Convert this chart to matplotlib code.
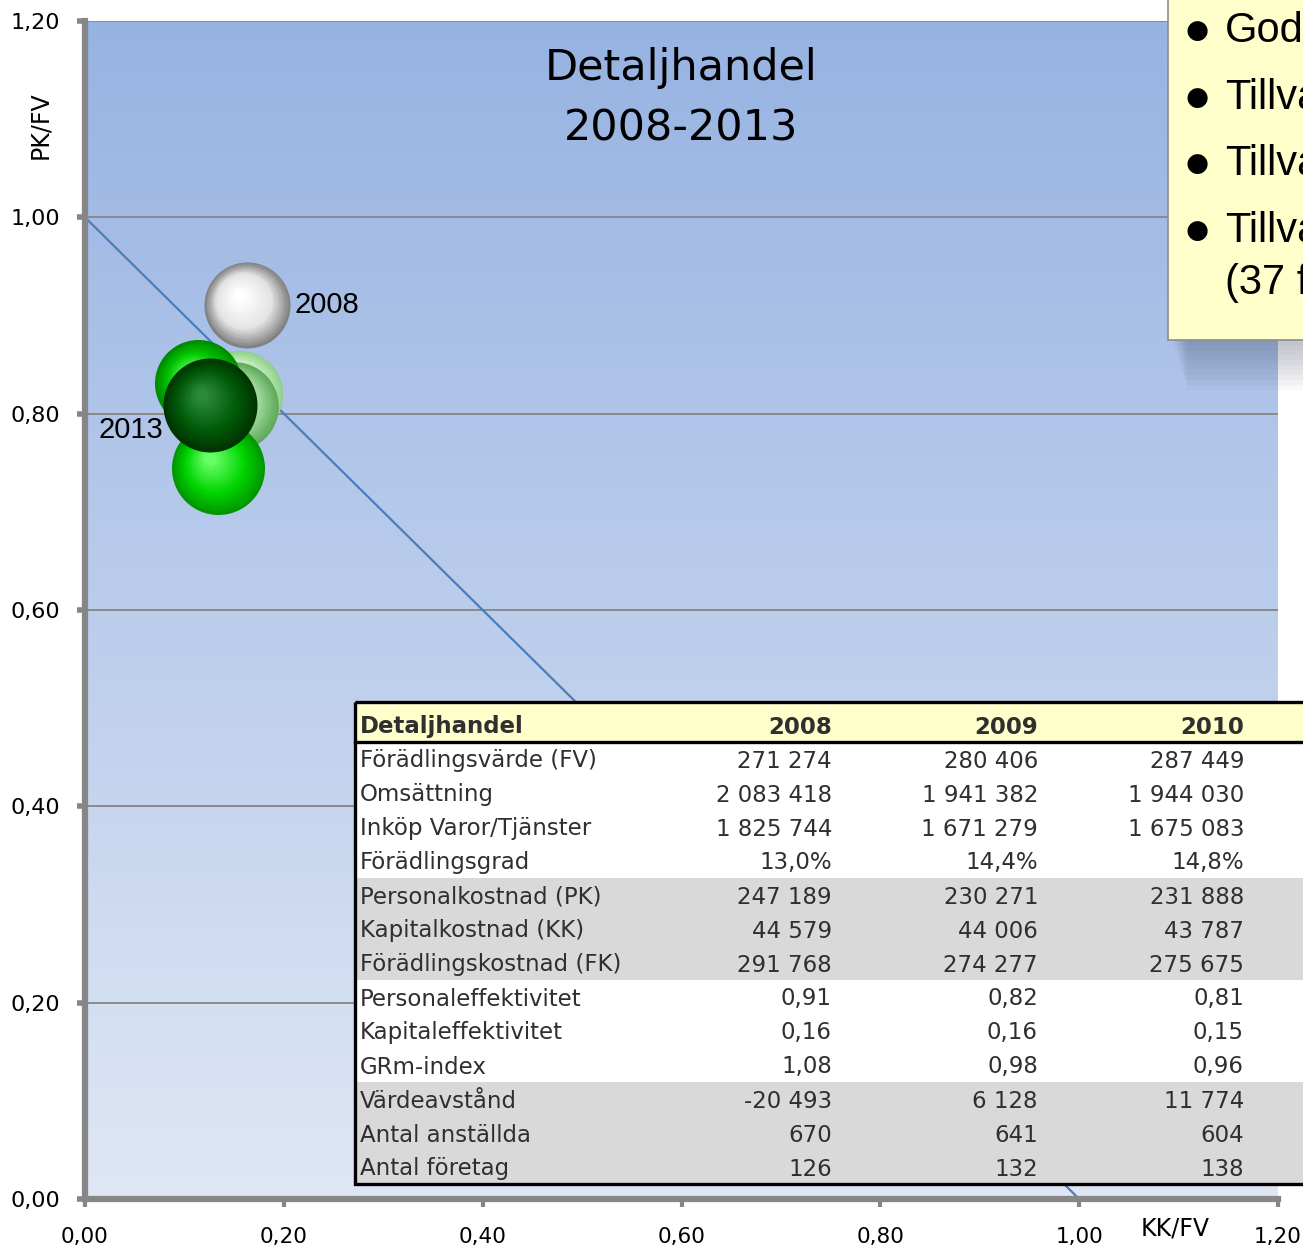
import matplotlib
matplotlib.use("Agg")
import matplotlib.pyplot as plt
import numpy as np
from matplotlib.colors import to_rgb
from matplotlib.patches import Rectangle
from matplotlib.ticker import FuncFormatter
from matplotlib.transforms import ScaledTranslation

# bubble data (KK/FV, PK/FV, storlek ~ FV)
years = ["2008", "2009", "2010", "2011", "2012", "2013"]
kk_fv = [0.163, 0.155, 0.150, 0.114, 0.134, 0.126]
pk_fv = [0.911, 0.820, 0.808, 0.831, 0.745, 0.809]
bubble_fv = [271274, 280406, 287449, 277700, 317300, 324100]

# shading per bubble: rim, mid, highlight
bubble_cols = [
    ("#808080", "#e4e4e4", "#ffffff"),
    ("#8fcf8a", "#cdf3c6", "#ecffe8"),
    ("#5ea85a", "#9ed89a", "#c8f2c4"),
    ("#008a00", "#00c400", "#5cff5c"),
    ("#009600", "#00d400", "#66ff66"),
    ("#003300", "#005a08", "#2a8a3a"),
]

line_x = [0, 1]
line_y = [1, 0]

table_title = "Detaljhandel"
table_years = ["2008", "2009", "2010"]
row_labels = ["Förädlingsvärde (FV)", "Omsättning", "Inköp Varor/Tjänster",
              "Förädlingsgrad", "Personalkostnad (PK)", "Kapitalkostnad (KK)",
              "Förädlingskostnad (FK)", "Personaleffektivitet", "Kapitaleffektivitet",
              "GRm-index", "Värdeavstånd", "Antal anställda", "Antal företag"]
col_2008 = ["271 274", "2 083 418", "1 825 744", "13,0%", "247 189", "44 579",
            "291 768", "0,91", "0,16", "1,08", "-20 493", "670", "126"]
col_2009 = ["280 406", "1 941 382", "1 671 279", "14,4%", "230 271", "44 006",
            "274 277", "0,82", "0,16", "0,98", "6 128", "641", "132"]
col_2010 = ["287 449", "1 944 030", "1 675 083", "14,8%", "231 888", "43 787",
            "275 675", "0,81", "0,15", "0,96", "11 774", "604", "138"]
gray_rows = [4, 5, 6, 10, 11, 12]

notes = ["God", "Tillva", "Tillva", "Tillva\n(37 f"]

W, H = 1303, 1247
fig = plt.figure(figsize=(W / 100, H / 100), dpi=100)
ax = fig.add_axes([85 / W, 48 / H, (1278 - 85) / W, (1199 - 21) / H])
ax.set_xlim(0, 1.2)
ax.set_ylim(0, 1.2)

# background gradient
grad = np.linspace(0, 1, 256)[:, None]
top = np.array(to_rgb("#97b3e2"))
bot = np.array(to_rgb("#dfe7f5"))
img = top[None, None, :] * (1 - grad[:, :, None]) + bot[None, None, :] * grad[:, :, None]
ax.imshow(img, extent=[0, 1.2, 0, 1.2], aspect="auto", zorder=0, origin="upper")

ax.set_axisbelow(True)
ax.set_xticks(np.arange(0, 1.21, 0.2))
ax.set_yticks(np.arange(0, 1.21, 0.2))
ax.yaxis.grid(True, color="#8a8a8a", lw=1.4)
fmt = FuncFormatter(lambda v, p: f"{v:.2f}".replace(".", ","))
ax.xaxis.set_major_formatter(fmt)
ax.yaxis.set_major_formatter(fmt)
for s in ["top", "right"]:
    ax.spines[s].set_visible(False)
for s in ["left", "bottom"]:
    ax.spines[s].set_color("#868686")
    ax.spines[s].set_linewidth(4.5)
ax.tick_params(axis="y", direction="out", length=6, width=4, color="#868686",
               labelsize=16, pad=12)
ax.tick_params(axis="x", direction="out", length=6, width=3, color="#868686",
               labelsize=15.5, pad=14)
ax.text(-0.045, 1.094, "PK/FV", rotation=90, fontsize=17, ha="center", va="center",
        clip_on=False)
ax.text(1.097, -0.03, "KK/FV", fontsize=17, ha="center", va="center", clip_on=False)

ax.text(0.6, 1.1215, "Detaljhandel\n2008-2013", fontsize=31, ha="center", va="center",
        linespacing=1.55, zorder=6)

ax.plot(line_x, line_y, color="#4a7ebb", lw=1.6, zorder=2, clip_on=False)


def sphere(x, y, d, cols, z):
    rim, mid, hi = [np.array(to_rgb(c)) for c in cols]
    n = 32
    for i in range(n):
        t = i / (n - 1)
        r = d / 2 * (1 - 0.88 * t)
        off = (d / 2 - r) * 0.7
        dx, dy = -0.3 * off, 0.35 * off
        if t < 0.4:
            c = rim + (mid - rim) * (t / 0.4)
        else:
            c = mid + (hi - mid) * ((t - 0.4) / 0.6)
        tr = ax.transData + ScaledTranslation(dx / 100, dy / 100, fig.dpi_scale_trans)
        ax.scatter([x], [y], s=(2 * r * 0.72) ** 2, color=np.clip(c, 0, 1),
                   transform=tr, zorder=z, linewidths=0)


for i, yr in enumerate(years):
    d = 86 * np.sqrt(bubble_fv[i] / bubble_fv[0])
    sphere(kk_fv[i], pk_fv[i], d, bubble_cols[i], 3 + i)

ax.annotate(years[0], (kk_fv[0], pk_fv[0]), xytext=(34, 0), textcoords="offset points",
            fontsize=21, family="Liberation Sans", ha="left", va="center", zorder=10)
ax.annotate(years[-1], (kk_fv[-1], pk_fv[-1]), xytext=(-34, -18), textcoords="offset points",
            fontsize=21, family="Liberation Sans", ha="right", va="center", zorder=10)

# overlay in pixel coordinates: table and note box
tax = fig.add_axes([0, 0, 1, 1], zorder=5)
tax.set_xlim(0, W)
tax.set_ylim(H, 0)
tax.axis("off")

tl, tt, hb, rh = 355, 702, 742, 34
tb = hb + rh * len(row_labels)
tax.add_patch(Rectangle((tl, tt), W + 20 - tl, tb - tt, facecolor="white", edgecolor="none"))
tax.add_patch(Rectangle((tl, tt), W + 20 - tl, hb - tt, facecolor="#ffffcc", edgecolor="none"))
for r in gray_rows:
    tax.add_patch(Rectangle((tl, hb + rh * r), W + 20 - tl, rh, facecolor="#d9d9d9",
                            edgecolor="none"))
tax.add_patch(Rectangle((tl, tt), W + 20 - tl, tb - tt, facecolor="none",
                        edgecolor="black", lw=2.4))
tax.plot([tl, W + 20], [hb, hb], color="black", lw=2.4)

col_right = [832, 1038, 1244]
tc = "#2f2f2f"
tax.text(tl + 5, (tt + hb) / 2 + 5, table_title, fontsize=16.5, fontweight="bold", color=tc,
         ha="left", va="center")
for j, yr in enumerate(table_years):
    tax.text(col_right[j], (tt + hb) / 2 + 5, yr, fontsize=16.5, fontweight="bold", color=tc,
             ha="right", va="center")
cols = [col_2008, col_2009, col_2010]
for i, lab in enumerate(row_labels):
    yc = hb + rh * i + rh / 2 + 2
    tax.text(tl + 5, yc, lab, fontsize=16.5, color=tc, ha="left", va="center")
    for j in range(3):
        tax.text(col_right[j], yc, cols[j][i], fontsize=16.5, color=tc, ha="right", va="center")

# note box with shadow
bl, bt, bbot = 1168, -5, 340
for k in range(10, 0, -1):
    tax.add_patch(Rectangle((bl + 4 + k * 1.5, bt), W - bl, bbot - bt + k * 5,
                            facecolor="#404a60", alpha=0.035, edgecolor="none"))
tax.add_patch(Rectangle((bl, bt), W - bl + 20, bbot - bt, facecolor="#ffffcc",
                        edgecolor="#8c8c8c", lw=1.2))
note_y = [30, 97, 163, 230]
for txt, yy in zip(notes, note_y):
    tax.text(1197, yy + 1, "\u25cf", fontsize=19, ha="center", va="center", family="DejaVu Sans")
    tax.text(1225, yy - 19, txt, fontsize=30, ha="left", va="top", family="Liberation Sans",
             linespacing=1.4)

fig.savefig("out.png", dpi=100)
